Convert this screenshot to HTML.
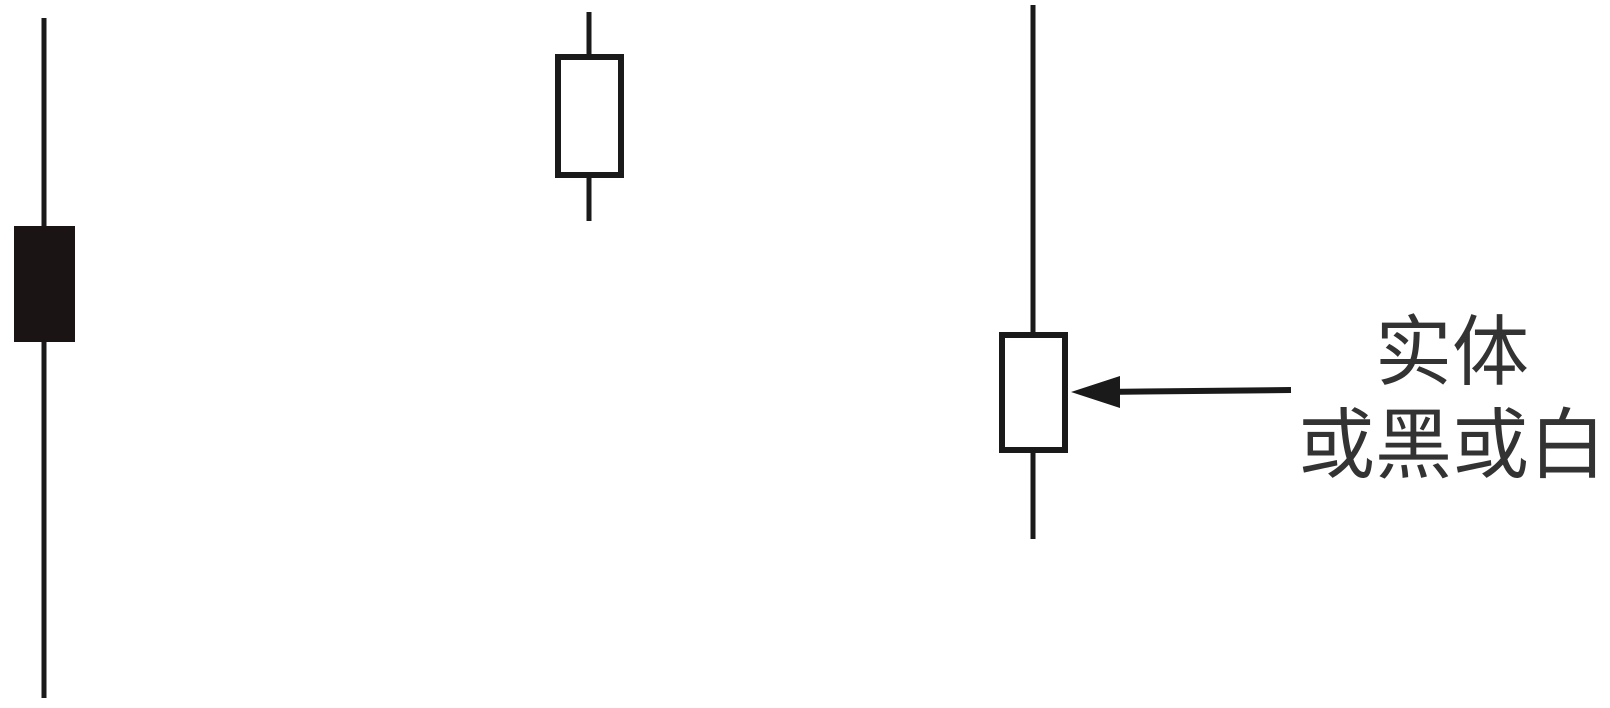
<!DOCTYPE html>
<html><head><meta charset="utf-8"><style>
html,body{margin:0;padding:0;background:#fff;width:1610px;height:708px;overflow:hidden}
svg{display:block}
</style></head><body>
<svg id="chart" width="1610" height="708" viewBox="0 0 1610 708" xmlns="http://www.w3.org/2000/svg">
<g id="candles"></g>
<g>
<line x1="1291" y1="390" x2="1100" y2="392" stroke="#1a1a1a" stroke-width="6"/>
<polygon points="1071,392 1120,376 1120,408" fill="#1a1a1a"/>
<text x="1452" y="379" text-anchor="middle" font-family="'Liberation Sans','Noto Sans CJK SC',sans-serif" font-size="77" fill="#333">实体</text>
<text x="1452" y="472" text-anchor="middle" font-family="'Liberation Sans','Noto Sans CJK SC',sans-serif" font-size="77" fill="#333">或黑或白</text>
</g>
</svg>
<script>
const categories = ["c1", "c2", "c3"];
const opens = [482, 530, 255];
const closes = [366, 654, 376];
const highs = [690, 696, 703];
const lows = [10, 487, 169];
function xScale(i){ return [44, 589, 1033][i]; }
function yScale(v){ return 708 - v; }
const g = document.getElementById('candles');
const NS = 'http://www.w3.org/2000/svg';
categories.forEach((c, i) => {
  const x = xScale(i);
  const up = closes[i] >= opens[i];
  const wick = document.createElementNS(NS, 'line');
  
  
  wick.setAttribute('x1', x); wick.setAttribute('x2', x);
  wick.setAttribute('y1', yScale(highs[i])); wick.setAttribute('y2', yScale(lows[i]));
  wick.setAttribute('stroke', '#1a1a1a'); wick.setAttribute('stroke-width', 5);
  g.appendChild(wick);
  const top = yScale(Math.max(opens[i], closes[i]));
  const bot = yScale(Math.min(opens[i], closes[i]));
  const body = document.createElementNS(NS, 'rect');
  
  
  if (up) {
    body.setAttribute('x', x - 31); body.setAttribute('width', 63);
    body.setAttribute('y', top + 3); body.setAttribute('height', bot - top - 6);
    body.setAttribute('fill', '#fff'); body.setAttribute('stroke', '#1a1a1a'); body.setAttribute('stroke-width', 6);
  } else {
    body.setAttribute('x', x - 30); body.setAttribute('width', 61);
    body.setAttribute('y', top); body.setAttribute('height', bot - top);
    body.setAttribute('fill', '#1a1414');
  }
  g.appendChild(body);
});
</script>
</body></html>
